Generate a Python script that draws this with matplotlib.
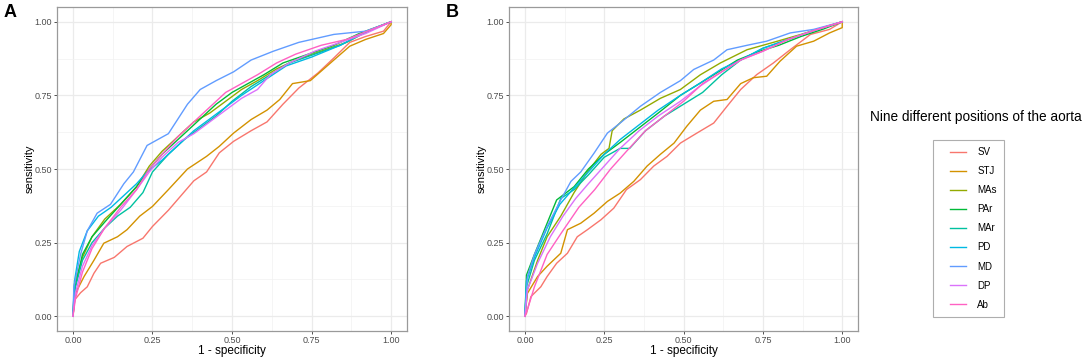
import matplotlib
matplotlib.use('Agg')
import matplotlib.pyplot as plt
from matplotlib.lines import Line2D
from matplotlib.legend_handler import HandlerBase
import numpy as np

# ROC curves, panel A
sv_a_x = [0, .005, .024, .045, .066, .087, .13, .17, .22, .25, .30, .34, .38, .42, .46, .505, .56, .61, .66, .71, .77, .82, .87, .92, .976, 1]
sv_a_y = [0, .055, .08, .10, .146, .18, .20, .237, .265, .305, .36, .41, .46, .49, .555, .594, .63, .66, .72, .775, .826, .877, .93, .95, .968, 1]
stj_a_x = [0, .008, .035, .066, .097, .14, .17, .21, .25, .30, .36, .42, .46, .505, .56, .61, .65, .69, .746, .82, .87, .92, .976, 1, 1]
stj_a_y = [0, .078, .135, .19, .248, .27, .294, .34, .373, .43, .50, .543, .577, .622, .668, .70, .736, .79, .80, .87, .917, .94, .96, .99, 1]
mas_a_x = [0, .005, .03, .06, .10, .15, .20, .24, .28, .33, .38, .43, .48, .53, .58, .64, .70, .78, .86, .93, 1]
mas_a_y = [0, .11, .20, .27, .33, .38, .44, .51, .56, .61, .66, .69, .73, .77, .80, .84, .87, .90, .93, .97, 1]
par_a_x = [0, .005, .03, .06, .10, .15, .20, .24, .28, .33, .38, .42, .45, .50, .55, .60, .66, .74, .82, .90, 1]
par_a_y = [0, .09, .21, .27, .32, .38, .44, .50, .55, .60, .65, .69, .72, .76, .79, .82, .86, .89, .92, .96, 1]
mar_a_x = [0, .008, .03, .06, .10, .14, .18, .22, .25, .30, .35, .40, .45, .50, .56, .62, .68, .76, .84, .92, 1]
mar_a_y = [0, .10, .19, .25, .30, .34, .37, .42, .49, .55, .60, .64, .68, .73, .78, .82, .86, .89, .92, .965, 1]
pd_a_x = [0, .005, .02, .045, .08, .12, .16, .20, .233, .28, .33, .38, .43, .48, .53, .60, .67, .75, .84, .92, 1]
pd_a_y = [0, .12, .22, .29, .34, .37, .41, .45, .49, .53, .58, .63, .67, .71, .75, .80, .85, .88, .92, .965, 1]
md_a_x = [0, .003, .024, .045, .076, .118, .16, .19, .233, .30, .36, .40, .45, .505, .56, .63, .71, .82, .92, 1]
md_a_y = [0, .10, .21, .29, .35, .38, .45, .49, .58, .62, .72, .77, .80, .83, .87, .90, .93, .957, .968, 1]
dp_a_x = [0, .008, .03, .06, .10, .15, .20, .24, .28, .33, .38, .43, .48, .53, .58, .62, .68, .76, .84, .92, 1]
dp_a_y = [0, .08, .17, .24, .30, .36, .43, .49, .54, .59, .62, .66, .70, .74, .77, .82, .86, .90, .93, .96, 1]
ab_a_x = [0, .008, .03, .06, .10, .15, .20, .24, .28, .33, .38, .43, .48, .53, .58, .64, .70, .78, .86, .93, 1]
ab_a_y = [0, .06, .15, .23, .30, .37, .43, .50, .55, .61, .66, .71, .76, .79, .82, .86, .89, .92, .94, .97, 1]

# panel B
sv_b_x = [0, .005, .019, .05, .07, .10, .134, .165, .197, .24, .28, .32, .364, .406, .448, .49, .542, .595, .637, .68, .73, .783, .836, .90, .96, 1]
sv_b_y = [0, .01, .067, .10, .135, .18, .214, .27, .294, .328, .367, .43, .464, .51, .543, .588, .622, .656, .713, .77, .82, .86, .905, .957, .974, 1]
stj_b_x = [0, .008, .04, .07, .113, .134, .176, .218, .26, .30, .343, .385, .427, .47, .51, .553, .595, .637, .68, .72, .762, .804, .856, .91, .96, 1, 1]
stj_b_y = [0, .078, .135, .17, .214, .294, .316, .35, .39, .418, .458, .51, .55, .588, .645, .70, .73, .736, .79, .81, .815, .866, .917, .934, .962, .98, 1]
mas_b_x = [0, .008, .04, .07, .113, .155, .197, .24, .265, .275, .312, .364, .427, .49, .553, .616, .70, .783, .87, 1]
mas_b_y = [0, .09, .19, .27, .34, .42, .49, .55, .57, .63, .67, .70, .74, .77, .82, .86, .905, .93, .957, 1]
par_b_x = [0, .005, .03, .07, .10, .155, .20, .25, .30, .36, .42, .49, .55, .61, .67, .74, .80, .87, .94, 1]
par_b_y = [0, .14, .21, .316, .395, .44, .50, .55, .59, .64, .69, .75, .79, .83, .87, .90, .92, .95, .975, 1]
mar_b_x = [0, .005, .03, .07, .113, .155, .20, .25, .30, .33, .38, .44, .50, .56, .62, .68, .75, .83, .91, 1]
mar_b_y = [0, .10, .19, .28, .40, .43, .48, .54, .57, .57, .63, .68, .72, .76, .82, .87, .91, .94, .97, 1]
pd_b_x = [0, .005, .03, .07, .11, .15, .20, .25, .30, .36, .42, .49, .55, .62, .68, .75, .83, .91, 1]
pd_b_y = [0, .12, .20, .30, .38, .43, .49, .55, .60, .65, .70, .75, .79, .84, .87, .91, .94, .97, 1]
md_b_x = [0, .008, .03, .07, .113, .145, .176, .218, .26, .30, .364, .427, .49, .532, .595, .637, .70, .762, .836, .91, 1]
md_b_y = [0, .135, .21, .305, .395, .458, .49, .554, .622, .656, .713, .76, .80, .838, .87, .905, .92, .934, .962, .974, 1]
dp_b_x = [0, .008, .04, .08, .12, .16, .20, .25, .30, .36, .42, .49, .55, .62, .68, .75, .83, .91, 1]
dp_b_y = [0, .09, .18, .27, .34, .40, .45, .51, .57, .63, .68, .73, .78, .83, .87, .90, .94, .97, 1]
ab_b_x = [0, .01, .03, .07, .113, .17, .22, .27, .32, .38, .44, .50, .56, .62, .68, .75, .83, .91, 1]
ab_b_y = [0, .03, .10, .21, .28, .37, .43, .50, .56, .63, .68, .73, .79, .83, .87, .90, .94, .97, 1]

positions = ['SV', 'STJ', 'MAs', 'PAr', 'MAr', 'PD', 'MD', 'DP', 'Ab']
colors = ['#F8766D', '#D39200', '#93AA00', '#00BA38', '#00C19F',
          '#00B9E3', '#619CFF', '#DB72FB', '#FF61C3']

curves_a = [(sv_a_x, sv_a_y), (stj_a_x, stj_a_y), (mas_a_x, mas_a_y),
            (par_a_x, par_a_y), (mar_a_x, mar_a_y), (pd_a_x, pd_a_y),
            (md_a_x, md_a_y), (dp_a_x, dp_a_y), (ab_a_x, ab_a_y)]
curves_b = [(sv_b_x, sv_b_y), (stj_b_x, stj_b_y), (mas_b_x, mas_b_y),
            (par_b_x, par_b_y), (mar_b_x, mar_b_y), (pd_b_x, pd_b_y),
            (md_b_x, md_b_y), (dp_b_x, dp_b_y), (ab_b_x, ab_b_y)]

plt.rcParams['font.family'] = ['Liberation Sans', 'DejaVu Sans']

fig = plt.figure(figsize=(10.84, 3.58), dpi=100)
ax_a = fig.add_axes([0.0526, 0.0754, 0.3229, 0.905])
ax_b = fig.add_axes([0.4696, 0.0754, 0.3220, 0.905])


def style_panel(ax):
    ax.set_xlim(-0.05, 1.05)
    ax.set_ylim(-0.05, 1.05)
    ticks = [0, 0.25, 0.5, 0.75, 1.0]
    ax.set_xticks(ticks)
    ax.set_yticks(ticks)
    ax.set_xticklabels(['0.00', '0.25', '0.50', '0.75', '1.00'])
    ax.set_yticklabels(['0.00', '0.25', '0.50', '0.75', '1.00'])
    ax.set_xticks(np.arange(0.125, 1.0, 0.25), minor=True)
    ax.set_yticks(np.arange(0.125, 1.0, 0.25), minor=True)
    ax.grid(which='major', color='#EBEBEB', linewidth=0.9)
    ax.grid(which='minor', color='#F2F2F2', linewidth=0.5)
    ax.set_axisbelow(True)
    ax.tick_params(which='major', length=2.5, width=0.6, color='#333333',
                   labelsize=6.5, labelcolor='#4D4D4D', pad=1.2)
    ax.tick_params(which='minor', length=0)
    for sp in ax.spines.values():
        sp.set_color('#9A9A9A')
        sp.set_linewidth(0.9)
    ax.set_xlabel('1 - specificity', fontsize=8.5, labelpad=0)
    ax.set_ylabel('sensitivity', fontsize=8, labelpad=0)


for ax, curves in [(ax_a, curves_a), (ax_b, curves_b)]:
    style_panel(ax)
    for (xs, ys), c in zip(curves, colors):
        ax.plot(xs, ys, color=c, linewidth=1.0)

fig.text(0.003, 0.988, 'A', fontsize=13, fontweight='bold', va='top', ha='left')
fig.text(0.4115, 0.988, 'B', fontsize=13, fontweight='bold', va='top', ha='left')

fig.text(0.8026, 0.673, 'Nine different positions of the aorta',
         fontsize=9.8, va='center', ha='left')


class PadLine(HandlerBase):
    # short key line sitting at the right end of the handle box
    def create_artists(self, legend, orig_handle, xdescent, ydescent,
                       width, height, fontsize, trans):
        y = height / 2 - ydescent
        x0 = width * 0.40 - xdescent
        line = Line2D([x0, width - xdescent], [y, y],
                      color=orig_handle.get_color(), linewidth=1.0,
                      transform=trans)
        return [line]


handles = [Line2D([0], [0], color=c, linewidth=1.0) for c in colors]
leg = fig.legend(handles, positions, loc='upper left',
                 bbox_to_anchor=(0.8607, 0.609), fontsize=7,
                 frameon=True, fancybox=False, edgecolor='#9A9A9A',
                 labelspacing=0.93, handlelength=2.6, handletextpad=1.2,
                 borderpad=0.75, borderaxespad=0,
                 handler_map={Line2D: PadLine()})
leg.get_frame().set_linewidth(0.8)

fig.savefig('out.png', dpi=100)
